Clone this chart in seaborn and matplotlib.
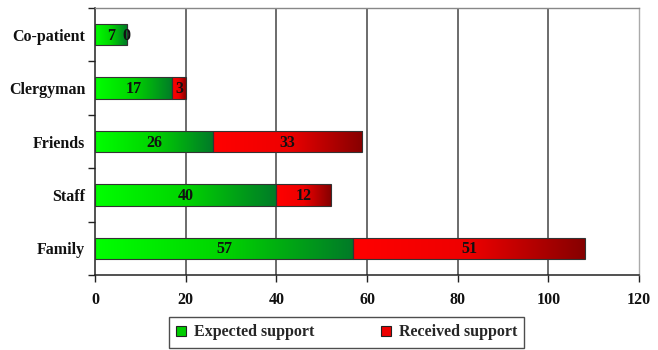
import numpy as np
import pandas as pd
import matplotlib
matplotlib.use("Agg")
import matplotlib.pyplot as plt
import seaborn as sns
from matplotlib.colors import LinearSegmentedColormap
from matplotlib.patches import Patch

categories = ["Co-patient", "Clergyman", "Friends", "Staff", "Family"]
expected = [7, 17, 26, 40, 57]
received = [0, 3, 33, 12, 51]
series_names = ["Expected support", "Received support"]
x_ticks = [0, 20, 40, 60, 80, 100, 120]

sns.set_theme(style="white")
plt.rcParams["font.family"] = ["Liberation Serif", "DejaVu Serif"]
plt.rcParams["font.weight"] = "bold"

FS = 11.5

df = pd.DataFrame({"category": categories, "expected": expected, "received": received})
df["total"] = df["expected"] + df["received"]

fig = plt.figure(figsize=(6.58, 3.5), dpi=100)
ax = fig.add_axes([95 / 658, 1 - 275 / 350, (639 - 95) / 658, (275 - 8) / 350])

sns.barplot(data=df, x="total", y="category", order=categories, color="#ff0000",
            width=0.4, ax=ax, edgecolor="#333333", linewidth=0.8, zorder=3)
n = len(categories)
red_patches = list(ax.patches)
sns.barplot(data=df, x="expected", y="category", order=categories, color="#00dd00",
            width=0.4, ax=ax, edgecolor="#333333", linewidth=0.8, zorder=3)
green_patches = list(ax.patches)[n:]

# red segment starts where green ends
for p, e, r in zip(red_patches, expected, received):
    p.set_x(e)
    p.set_width(r)

green_cmap = LinearSegmentedColormap.from_list("g", ["#00ff00", "#00d400", "#007a28"])
red_cmap = LinearSegmentedColormap.from_list("r", ["#ff0000", "#ee0000", "#860000"])
grad = np.linspace(0, 1, 256).reshape(1, -1)

def fill_gradient(patches, cmap):
    for p in patches:
        x0, y0, w, h = p.get_x(), p.get_y(), p.get_width(), p.get_height()
        if w <= 0:
            continue
        im = ax.imshow(grad, cmap=cmap, aspect="auto", extent=[x0, x0 + w, y0 + h, y0],
                       zorder=3.5, interpolation="bicubic")
        im.set_clip_path(p)
        p.set_facecolor("none")
        p.set_zorder(4)

fill_gradient(green_patches, green_cmap)
fill_gradient(red_patches, red_cmap)

# value labels
for p, v in zip(green_patches, expected):
    ax.text(p.get_x() + p.get_width() / 2, p.get_y() + p.get_height() / 2 + 0.02, str(v),
            ha="center", va="center", fontsize=FS, fontweight="bold", color="#111111", zorder=6)
for p, v in zip(red_patches, received):
    ax.text(p.get_x() + p.get_width() / 2, p.get_y() + p.get_height() / 2 + 0.02, str(v),
            ha="center", va="center", fontsize=FS, fontweight="bold", color="#111111", zorder=6)

ax.set_xlim(0, 120)
ax.set_ylim(n - 0.5, -0.5)
ax.set_xticks(x_ticks)
ax.set_xticklabels([str(t) for t in x_ticks], fontsize=FS, fontweight="bold")
ax.set_yticks(range(n))
ax.set_yticklabels(categories, fontsize=FS, fontweight="bold")
ax.set_yticks(np.arange(-0.5, n, 1), minor=True)
ax.tick_params(axis="y", which="major", left=True, length=0, pad=7, labelcolor="#111111")
ax.tick_params(axis="y", which="minor", left=True, length=5, width=1, color="#222222",
               direction="out")
ax.tick_params(axis="x", which="major", bottom=True, length=5, width=1, color="#222222",
               direction="out", pad=7, labelcolor="#111111")
ax.set_xlabel("")
ax.set_ylabel("")

for xv in x_ticks[1:-1]:
    ax.axvline(xv, color="#444444", linewidth=1.1, zorder=1)

for s in ["left", "bottom"]:
    ax.spines[s].set_color("#222222")
    ax.spines[s].set_linewidth(1.1)
ax.spines["top"].set_color("#888888")
ax.spines["top"].set_linewidth(1.0)
ax.spines["right"].set_color("#aaaaaa")
ax.spines["right"].set_linewidth(1.0)

handles = [Patch(facecolor="#00cc00", edgecolor="#222222", linewidth=0.8),
           Patch(facecolor="#ee0000", edgecolor="#222222", linewidth=0.8)]
leg = fig.legend(handles, series_names, loc="center", bbox_to_anchor=(346.5 / 658, 1 - 332.5 / 350),
                 ncol=2, frameon=True, fancybox=False, edgecolor="#222222",
                 prop={"weight": "bold", "size": FS}, handlelength=0.6, handleheight=0.6,
                 columnspacing=4.2, handletextpad=0.5, borderpad=0.45, borderaxespad=0)
leg.get_frame().set_linewidth(1.0)

fig.savefig("out.png", dpi=100)
